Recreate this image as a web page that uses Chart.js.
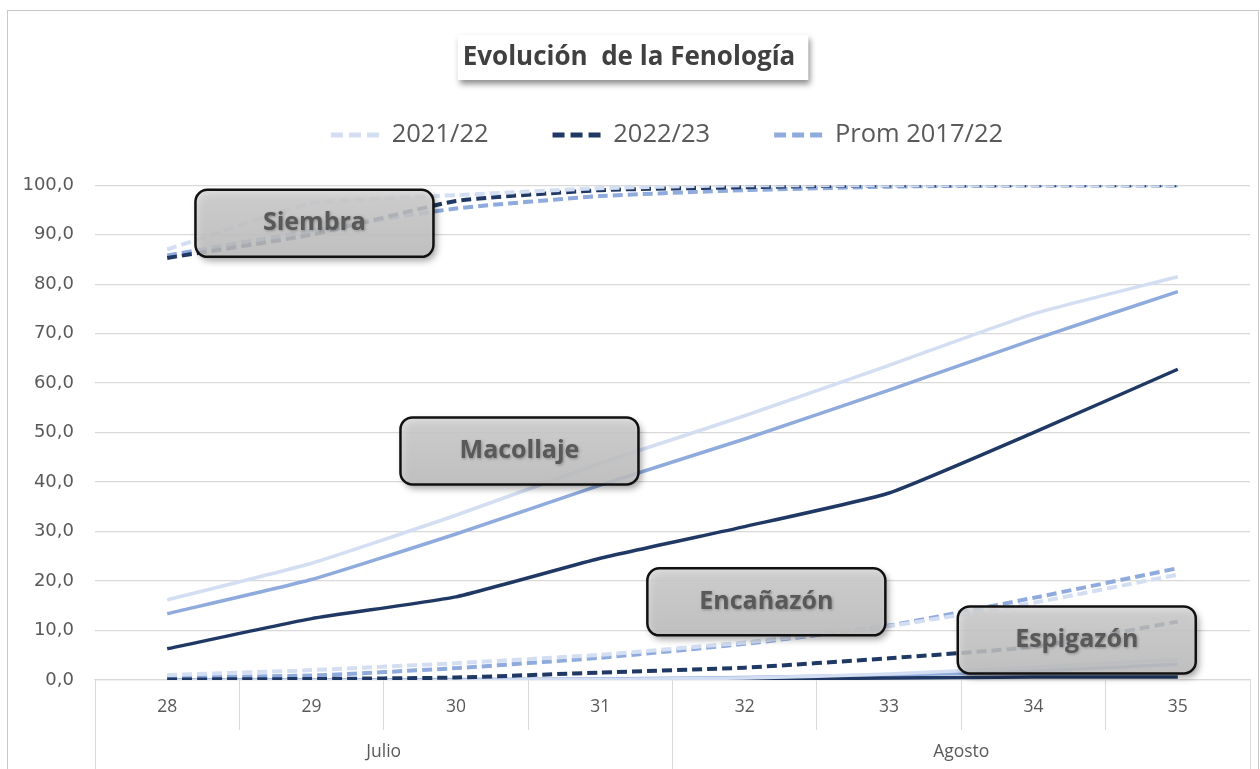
<!DOCTYPE html>
<html>
<head>
<meta charset="utf-8">
<script src="https://cdn.jsdelivr.net/npm/chart.js@4"></script>
<style>
  body { margin: 0; background: #fff; overflow: hidden; }
  #frame { position: absolute; left: 7px; top: 10px; width: 1250px; height: 780px; border: 1px solid #c8c8c8; }
</style>
</head>
<body>
<div id="frame"><canvas id="myChart" width="1250" height="760"></canvas></div>
<script>
// categories (semana) and month groups
const weeks = ['28', '29', '30', '31', '32', '33', '34', '35'];
const months = ['Julio', 'Agosto'];
const years = ['2021/22', '2022/23', 'Prom 2017/22'];

// % de avance por fase
const siembra2122 = [87.0, 96.3, 98.0, 99.4, 100, 100, 100, 100];
const siembra2223 = [85.3, 90.0, 96.8, 99.0, 99.6, 100, 100, 100];
const siembraProm = [85.8, 90.8, 95.3, 97.8, 99.0, 99.7, 100, 100];

const macollaje2122 = [16.2, 23.6, 33.3, 43.8, 53.4, 63.6, 74.0, 81.5];
const macollaje2223 = [6.3, 12.4, 16.8, 24.6, 31.0, 37.8, 50.0, 62.8];
const macollajeProm = [13.4, 20.3, 29.5, 39.4, 48.7, 58.6, 68.8, 78.5];

const encanazon2122 = [1.0, 2.0, 3.4, 5.1, 7.6, 10.9, 15.6, 21.3];
const encanazon2223 = [0.1, 0.2, 0.5, 1.5, 2.5, 4.4, 6.7, 11.8];
const encanazonProm = [0.5, 0.9, 2.4, 4.5, 7.3, 11.0, 16.6, 22.6];

const espiga2122 = [0, 0, 0, 0.1, 0.4, 1.2, 2.6, 4.2];
const espiga2223 = [0, 0, 0, 0, 0.2, 0.4, 0.6, 0.6];
const espigaProm = [0, 0, 0.1, 0.2, 0.5, 1.0, 1.8, 3.2];

// phase labels (boxes)
const phaseNames = ['Siembra', 'Macollaje', 'Encañazón', 'Espigazón'];
const phaseAtWeek = [1.02, 2.44, 4.15, 6.3];
const phaseAtValue = [92.3, 46.3, 15.8, 8.1];

const colors = ['#d3def2', '#203864', '#8faadc'];
const dash = [10, 5];

function line(label, data, color, dashed) {
    return {
        label: label,
        data: data,
        borderColor: color,
        backgroundColor: color,
        borderWidth: dashed ? 4 : 3.5,
        borderDash: dashed ? dash : [],
        pointRadius: 0,
        tension: 0.15,
        fill: false
    };
}

const datasets = [
    line(years[0], siembra2122, colors[0], true),
    line(years[1], siembra2223, colors[1], true),
    line(years[2], siembraProm, colors[2], true),
    line(years[0], macollaje2122, colors[0], false),
    line(years[1], macollaje2223, colors[1], false),
    line(years[2], macollajeProm, colors[2], false),
    line(years[0], encanazon2122, colors[0], true),
    line(years[1], encanazon2223, colors[1], true),
    line(years[2], encanazonProm, colors[2], true),
    line(years[0], espiga2122, colors[0], false),
    line(years[1], espiga2223, colors[1], false),
    line(years[2], espigaProm, colors[2], false)
];

//white title box with shadow, behind the title text
const titleBox = {
    id: 'titleBox',
    beforeDraw(chart) {
        const ctx = chart.ctx;
        const t = chart.options.plugins.title;
        ctx.save();
        ctx.font = 'bold 26px "Open Sans"';
        const w = ctx.measureText(t.text).width + 18;
        const cx = chart.width / 2;
        ctx.shadowColor = 'rgba(0,0,0,0.45)';
        ctx.shadowBlur = 6;
        ctx.shadowOffsetX = 2;
        ctx.shadowOffsetY = 4;
        ctx.fillStyle = '#fff';
        ctx.fillRect(cx - w / 2, 24, w, 45);
        ctx.restore();
        // legend sits a bit right of centre
        chart.legend.left = 76;
    }
};

//grey rounded boxes with phase names
const phaseBoxes = {
    id: 'phaseBoxes',
    afterDatasetsDraw(chart) {
        const ctx = chart.ctx;
        const x = chart.scales.x;
        const y = chart.scales.y;
        phaseNames.forEach((name, i) => {
            const cx = x.getPixelForValue(phaseAtWeek[i]);
            const cy = y.getPixelForValue(phaseAtValue[i]);
            const w = 238, h = 67;
            ctx.save();
            ctx.beginPath();
            ctx.roundRect(cx - w / 2, cy - h / 2, w, h, 12);
            ctx.shadowColor = 'rgba(0,0,0,0.45)';
            ctx.shadowBlur = 7;
            ctx.shadowOffsetX = 3;
            ctx.shadowOffsetY = 4;
            const g = ctx.createLinearGradient(0, cy - h / 2, 0, cy + h / 2);
            g.addColorStop(0, 'rgba(214,214,214,0.82)');
            g.addColorStop(1, 'rgba(198,198,198,0.82)');
            ctx.fillStyle = g;
            ctx.fill();
            ctx.shadowColor = 'transparent';
            ctx.lineWidth = 2.5;
            ctx.strokeStyle = '#111';
            ctx.stroke();
            ctx.font = 'bold 25px "Open Sans"';
            ctx.textAlign = 'center';
            ctx.textBaseline = 'middle';
            ctx.shadowColor = 'rgba(0,0,0,0.3)';
            ctx.shadowBlur = 3;
            ctx.shadowOffsetX = 1;
            ctx.shadowOffsetY = 1;
            ctx.fillStyle = '#595959';
            ctx.fillText(name, cx, cy);
            ctx.restore();
        });
    }
};

//fixed legend height so the plot starts where it should
const legendHeight = {
    id: 'legendHeight',
    beforeInit(chart) {
        const fit = chart.legend.fit;
        chart.legend.fit = function () {
            fit.call(this);
            this.height = 127;
        };
    }
};

const ctx = document.getElementById('myChart');

new Chart(ctx, {
    type: 'line',
    data: {
        labels: weeks,
        datasets: datasets
    },
    options: {
        responsive: false,
        animation: false,
        layout: { padding: { left: 0, right: 8, top: 0, bottom: 0 } },
        plugins: {
            title: {
                display: true,
                text: 'Evolución  de la Fenología',
                color: '#404040',
                font: { family: 'Open Sans', size: 26, weight: 'bold' },
                padding: { top: 31, bottom: -15 }
            },
            legend: {
                position: 'top',
                labels: {
                    filter: (item) => item.datasetIndex < 3,
                    generateLabels: (chart) => Chart.defaults.plugins.legend.labels.generateLabels(chart).map((item) => {
                        item.lineDash = [12, 6];
                        item.lineWidth = 5;
                        item.strokeStyle = colors[item.datasetIndex % 3];
                        return item;
                    }),
                    usePointStyle: true,
                    pointStyle: 'line',
                    pointStyleWidth: 48,
                    padding: 64,
                    color: '#595959',
                    font: { family: 'Open Sans', size: 25.5 }
                }
            },
            tooltip: { enabled: false }
        },
        scales: {
            y: {
                min: 0,
                max: 100,
                afterFit: (s) => { s.width = 87; },
                ticks: {
                    stepSize: 10,
                    padding: 21,
                    color: '#595959',
                    font: { family: 'DejaVu Sans', size: 18 },
                    callback: (v) => v.toFixed(1).replace('.', ',')
                },
                grid: { color: '#d9d9d9', drawTicks: false, lineWidth: 1.3 },
                border: { display: false }
            },
            x: {
                weight: 0,
                offset: true,
                afterFit: (s) => { s.height = 50; },
                grid: { offset: true, drawOnChartArea: false, tickLength: 50, color: '#d9d9d9' },
                border: { display: true, color: '#d9d9d9', width: 1.3 },
                ticks: {
                    padding: -33,
                    color: '#595959',
                    font: { family: 'Open Sans', size: 17.5 }
                }
            },
            xMonth: {
                type: 'category',
                position: 'bottom',
                weight: 1,
                labels: months,
                offset: true,
                afterFit: (s) => { s.height = 41; },
                grid: { offset: true, drawOnChartArea: false, tickLength: 41, color: '#d9d9d9' },
                border: { display: false },
                ticks: {
                    padding: -29,
                    color: '#595959',
                    font: { family: 'Open Sans', size: 17.5 }
                }
            }
        }
    },
    plugins: [titleBox, phaseBoxes, legendHeight]
});
</script>
</body>
</html>
